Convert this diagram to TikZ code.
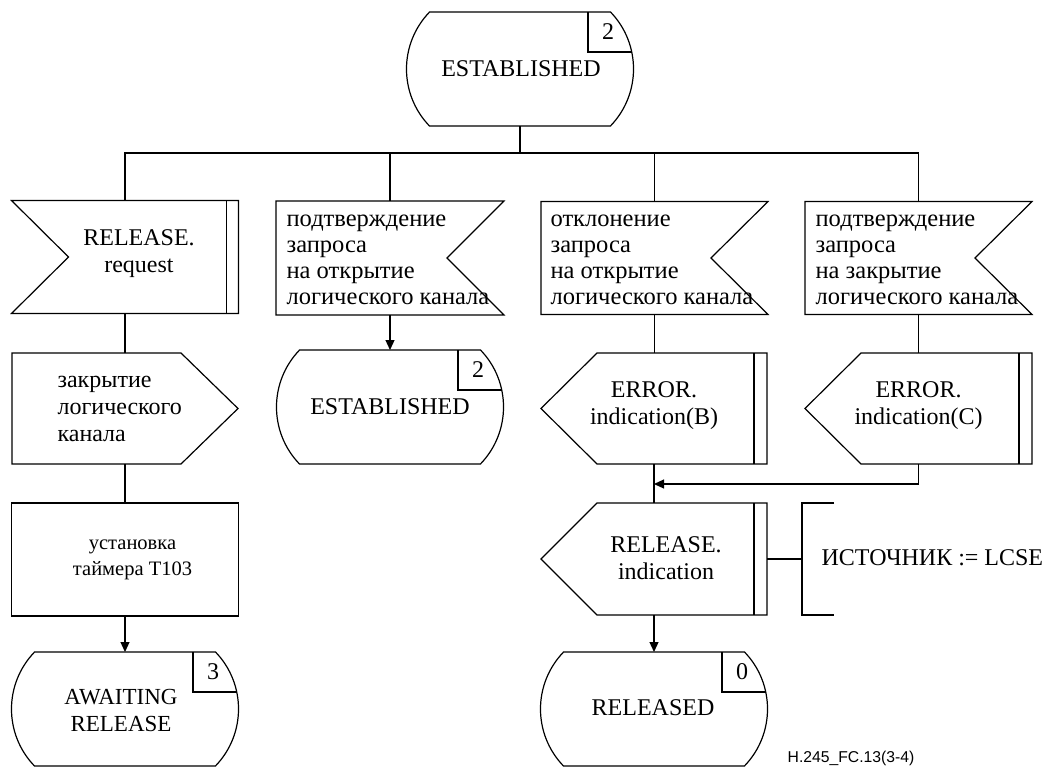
\documentclass[tikz,border=0pt]{standalone}
\usepackage{fontspec}
\setmainfont{Liberation Serif}
\setsansfont{Liberation Sans}
\usetikzlibrary{arrows.meta,calc}

\tikzset{
  shp/.style={draw=none, inner sep=0pt, outer sep=0pt},
  txt/.style={font=\fontsize{24}{27}\selectfont, align=center, inner sep=0pt},
  txtl/.style={txt, align=left, anchor=west},
  txtc/.style={txtl, font=\fontsize{24.5}{26}\selectfont},
  arr/.style={-{Triangle[length=10pt,width=9pt]}},
  lbl/.style={font=\sffamily\fontsize{15.7}{18}\selectfont, inner sep=0pt}
}

% SDL state outline with number box
\newcommand\stateoutline[2]{%
  \draw ($(#1.north west)+(22.5,0)$) -- ($(#1.north east)+(-22.5,0)$)
    arc[start angle=-44,end angle=44,radius=82]
    -- ($(#1.south west)+(22.5,0)$)
    arc[start angle=136,end angle=224,radius=82] -- cycle;
  \draw ($(#1.north east)+(-45,0)$) -- ++(0,40) -- ++(43.7,0);
  \node[txt] (#1n) at ($(#1.north east)+(-25,20)$) {#2};
}
% input with notch on the left and bar on the right
\newcommand\inleft[1]{%
  \draw (#1.north west) -- (#1.north east) -- (#1.south east) -- (#1.south west)
    -- ($(#1.west)+(57,0)$) -- cycle;
  \draw ($(#1.north east)+(-12,0)$) -- ($(#1.south east)+(-12,0)$);
}
% input with notch on the right
\newcommand\inright[1]{%
  \draw (#1.north west) -- (#1.north east) -- ($(#1.east)+(-57,0)$)
    -- (#1.south east) -- (#1.south west) -- cycle;
}
% left-pointing output with bar on the right
\newcommand\outleft[1]{%
  \draw (#1.west) -- ($(#1.north west)+(56,0)$) -- (#1.north east)
    -- (#1.south east) -- ($(#1.south west)+(56,0)$) -- cycle;
  \draw ($(#1.north east)+(-13,0)$) -- ($(#1.south east)+(-13,0)$);
}
% right-pointing output
\newcommand\outright[1]{%
  \draw (#1.north west) -- ($(#1.north east)+(-57,0)$) -- (#1.east)
    -- ($(#1.south east)+(-57,0)$) -- (#1.south west) -- cycle;
}

\begin{document}
\begin{tikzpicture}[x=1pt,y=-1pt,line width=1.2pt]
\useasboundingbox (0,0) rectangle (1047,769);

% ---- top state
\node[shp, minimum width=226, minimum height=114] (s0) at (520,69) {};
\stateoutline{s0}{2}
\node[txt] (s0t) at (521,69) {ESTABLISHED};

% ---- inputs row
\node[shp, minimum width=227, minimum height=113] (in1) at (125,257) {};
\inleft{in1}
\node[txt] (in1t) at (139,254) {RELEASE.\\request};

\node[shp, minimum width=228, minimum height=114] (in2) at (390,258) {};
\inright{in2}
\node[txtc] (in2t) at (286,260) {подтверждение\\запроса\\на открытие\\логического канала};

\node[shp, minimum width=227, minimum height=113] (in3) at (654.5,258) {};
\inright{in3}
\node[txtc] (in3t) at (550,260) {отклонение\\запроса\\на открытие\\логического канала};

\node[shp, minimum width=227, minimum height=113] (in4) at (918.5,258) {};
\inright{in4}
\node[txtc] (in4t) at (815,260) {подтверждение\\запроса\\на закрытие\\логического канала};

% ---- bus
\coordinate (bus) at (0,153);
\draw (s0.south) -- (s0.south |- bus);
\draw (in1.north) -- (in1.north |- bus) -- (in4.north |- bus) -- (in4.north);
\draw (in2.north) -- (in2.north |- bus);
\draw (in3.north) -- (in3.north |- bus);

% ---- second row
\node[shp, minimum width=226, minimum height=111] (sv1) at (125,408.5) {};
\outright{sv1}
\node[txtl] (sv1t) at (57,409) {закрытие\\логического\\канала};

\node[shp, minimum width=226, minimum height=114] (s2) at (390,407) {};
\stateoutline{s2}{2}
\node[txt] (s2t) at (390,407) {ESTABLISHED};

\node[shp, minimum width=226, minimum height=111] (o1) at (654,408.5) {};
\outleft{o1}
\node[txt] (o1t) at (654,406) {ERROR.\\indication(B)};

\node[shp, minimum width=227, minimum height=111] (o2) at (918.5,408.5) {};
\outleft{o2}
\node[txt] (o2t) at (918.5,406) {ERROR.\\indication(C)};

% ---- third row
\node[shp, draw, minimum width=227, minimum height=113] (t1) at (125,559.5) {};
\node[txt, font=\fontsize{20.5}{26}\selectfont] (t1t) at (132.5,560) {установка\\таймера T103};

\node[shp, minimum width=226, minimum height=112] (o3) at (654,559) {};
\outleft{o3}
\node[txt] (o3t) at (666,558.5) {RELEASE.\\indication};

\node[shp, minimum width=32, minimum height=112] (cm) at (818,559) {};
\draw ($(cm.north west)+(32,0)$) -- (cm.north west) -- (cm.south west) -- ++(32,0);
\node[txtl] (cmt) at (821,558) {ИСТОЧНИК := LCSE};

% ---- bottom states
\node[shp, minimum width=226, minimum height=114] (s3) at (125,709) {};
\stateoutline{s3}{3}
\node[txt, font=\fontsize{23}{27}\selectfont] (s3t) at (121,710) {AWAITING\\RELEASE};

\node[shp, minimum width=226, minimum height=114] (s4) at (654,709) {};
\stateoutline{s4}{0}
\node[txt] (s4t) at (653,708) {RELEASED};

% ---- connectors
\draw (in1.south) -- (in1.south |- sv1.north);
\draw (sv1.south) -- (sv1.south |- t1.north);
\draw[arr] (t1.south) -- (s3.north);
\draw[arr] (in2.south) -- (s2.north);
\draw (in3.south) -- (in3.south |- o1.north);
\draw (in4.south) -- (in4.south |- o2.north);
\coordinate (mrg) at (0,484);
\draw (o1.south) -- (o3.north);
\draw[arr] (o2.south) |- (o1.south |- mrg);
\draw[arr] (o3.south) -- (s4.north);
\draw (o3.east) -- (cm.west);

\node[lbl] (fig) at (851,758) {H.245\_FC.13(3-4)};
\end{tikzpicture}
\end{document}
